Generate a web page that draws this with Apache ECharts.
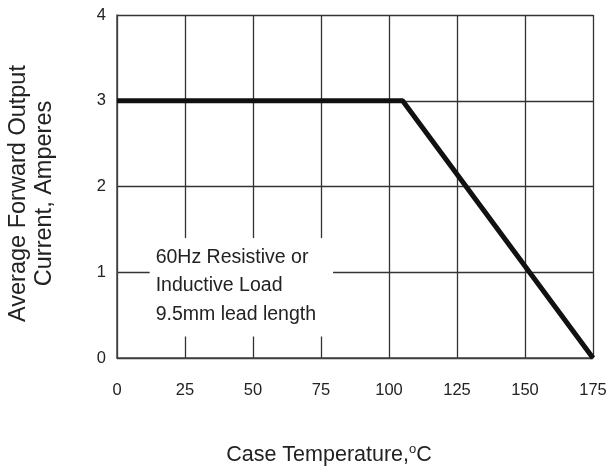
<!DOCTYPE html>
<html><head><meta charset="utf-8">
<script src="https://cdn.jsdelivr.net/npm/echarts@6/dist/echarts.min.js"></script>
<style>html,body{margin:0;padding:0;background:#fff}#c{width:608px;height:474px}</style>
</head><body><div id="c"></div>
<script>
const xTicks = [0, 25, 50, 75, 100, 125, 150, 175];
const yTicks = [0, 1, 2, 3, 4];
const curveX = [0, 105, 175];
const curveY = [3, 3, 0];
const noteLines = ['60Hz Resistive or', 'Inductive Load', '9.5mm lead length'];
const notePos = [12, 1.40];
const FONT = '"Liberation Sans", Arial, sans-serif';

const chart = echarts.init(document.getElementById('c'), null, {renderer: 'canvas'});
chart.setOption({
  animation: false,
  grid: {left: 117, right: 15, top: 15, bottom: 116, containLabel: false, outerBoundsMode: 'none'},
  xAxis: {
    type: 'value', min: 0, max: 175, interval: 25,
    name: 'Case Temperature,{sup|o}C', nameLocation: 'middle', nameGap: 85,
    nameTextStyle: {fontFamily: FONT, fontSize: 21.5, color: '#222', padding: [0, 52, 0, 0],
      rich: {sup: {fontFamily: FONT, fontSize: 13, verticalAlign: 'top', padding: [0, 0, 12, 0], color: '#222'}}},
    axisLine: {show: true, lineStyle: {color: '#444', width: 1.5}},
    axisTick: {show: false},
    axisLabel: {fontFamily: FONT, fontSize: 16.5, color: '#222', margin: 24,
      formatter: v => xTicks.includes(v) ? String(v) : ''},
    splitLine: {show: true, lineStyle: {color: '#333', width: 1.3}}
  },
  yAxis: {
    type: 'value', min: 0, max: 4, interval: 1,
    name: 'Average Forward Output\nCurrent, Amperes', nameLocation: 'middle', nameGap: 59,
    nameTextStyle: {fontFamily: FONT, fontSize: 23.5, color: '#222', lineHeight: 26, padding: [0, 14, 0, 0]},
    axisLine: {show: true, lineStyle: {color: '#444', width: 1.5}},
    axisTick: {show: false},
    axisLabel: {fontFamily: FONT, fontSize: 16.5, color: '#222', margin: 11,
      formatter: v => yTicks.includes(v) ? String(v) : ''},
    splitLine: {show: true, lineStyle: {color: '#333', width: 1.3}}
  },
  series: [{
    type: 'line', data: curveX.map((x, i) => [x, curveY[i]]),
    symbol: 'none', lineStyle: {color: '#111', width: 5}, z: 5
  }]
});
const p = chart.convertToPixel({gridIndex: 0}, notePos);
chart.setOption({
  graphic: [{
    type: 'text', left: p[0], top: p[1], z: 100,
    style: {
      text: noteLines.join('\n'), fontFamily: FONT, fontSize: 19.5, lineHeight: 28.5,
      fill: '#222', backgroundColor: '#fff', padding: [5, 17, 8, 6]
    }
  }]
});
</script></body></html>
